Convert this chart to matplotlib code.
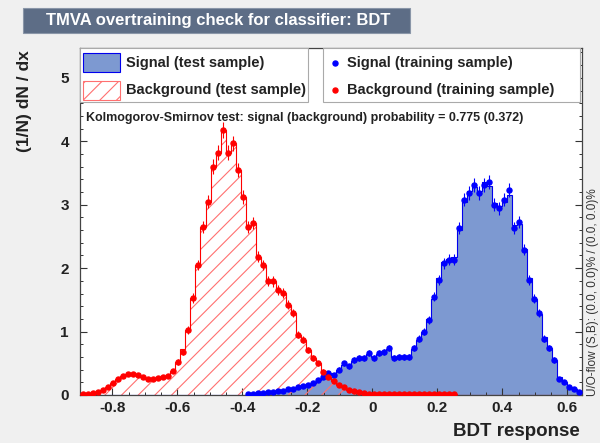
import numpy as np
import matplotlib.pyplot as plt
from matplotlib.patches import Rectangle
from matplotlib.lines import Line2D
from matplotlib.ticker import MultipleLocator

plt.rcParams['font.family'] = ['Liberation Sans', 'DejaVu Sans']
plt.rcParams['hatch.linewidth'] = 0.8

# histogram range and binning (TMVA style, 100 bins)
x_lo, x_hi, n_bins = -0.9, 0.645, 100

# signal, normalised (1/N) dN/dx, bins 0..99
sig_test = [0.0] * 33 + [
    0.01, 0.02, 0.03, 0.03, 0.04, 0.05, 0.06, 0.07, 0.09, 0.10,
    0.12, 0.14, 0.16, 0.19, 0.23, 0.28, 0.32, 0.34, 0.40, 0.48,
    0.47, 0.53, 0.58, 0.59, 0.64, 0.60, 0.65, 0.68, 0.72, 0.60,
    0.60, 0.61, 0.62, 0.72, 0.87, 1.00, 1.20, 1.52, 1.85, 2.10,
    2.15, 2.18, 2.60, 3.05, 3.22, 3.28, 3.22, 3.35, 3.30, 3.02,
    2.98, 3.05, 3.15, 2.68, 2.70, 2.30, 1.85, 1.52, 1.28, 0.92,
    0.74, 0.55, 0.28, 0.21, 0.13, 0.10, 0.05]
sig_train = [0.0] * 33 + [
    0.01, 0.02, 0.03, 0.03, 0.04, 0.05, 0.06, 0.07, 0.09, 0.10,
    0.12, 0.14, 0.16, 0.19, 0.24, 0.29, 0.34, 0.32, 0.40, 0.50,
    0.45, 0.55, 0.58, 0.58, 0.66, 0.58, 0.66, 0.68, 0.74, 0.58,
    0.60, 0.60, 0.60, 0.74, 0.89, 1.00, 1.18, 1.55, 1.81, 2.08,
    2.13, 2.13, 2.63, 3.08, 3.18, 3.31, 3.18, 3.31, 3.36, 3.00,
    2.94, 3.08, 3.23, 2.63, 2.73, 2.29, 1.81, 1.52, 1.29, 0.89,
    0.74, 0.55, 0.26, 0.21, 0.13, 0.10, 0.05]

bkg_test = [
    0.02, 0.02, 0.03, 0.05, 0.08, 0.13, 0.19, 0.25, 0.30, 0.33,
    0.33, 0.31, 0.28, 0.26, 0.26, 0.27, 0.28, 0.30, 0.38, 0.52,
    0.72, 1.03, 1.53, 2.05, 2.65, 3.05, 3.60, 3.82, 4.18, 3.82,
    3.97, 3.55, 3.12, 2.65, 2.71, 2.18, 2.05, 1.80, 1.79, 1.66,
    1.61, 1.42, 1.29, 0.95, 0.87, 0.71, 0.58, 0.50, 0.37, 0.29,
    0.22, 0.16, 0.12, 0.08, 0.06, 0.04, 0.03, 0.02, 0.02, 0.01,
    0.01, 0.01, 0.01, 0.01, 0.01, 0.01, 0.01, 0.01, 0.01, 0.01,
    0.01, 0.01, 0.01, 0.01, 0.01] + [0.0] * 25
bkg_train = [
    0.02, 0.02, 0.03, 0.05, 0.08, 0.13, 0.19, 0.25, 0.30, 0.33,
    0.33, 0.31, 0.28, 0.26, 0.26, 0.27, 0.28, 0.30, 0.38, 0.52,
    0.68, 1.03, 1.53, 2.05, 2.65, 3.05, 3.60, 3.82, 4.18, 3.82,
    3.97, 3.55, 3.12, 2.65, 2.71, 2.18, 2.05, 1.80, 1.79, 1.66,
    1.61, 1.42, 1.29, 0.95, 0.87, 0.71, 0.58, 0.50, 0.37, 0.29,
    0.22, 0.16, 0.12, 0.08, 0.06, 0.04, 0.03, 0.02, 0.02, 0.01,
    0.01, 0.01, 0.01, 0.01, 0.01, 0.01, 0.01, 0.01, 0.01, 0.01,
    0.01, 0.01, 0.01, 0.01, 0.01] + [0.0] * 25

title = "TMVA overtraining check for classifier: BDT"
ks_text = "Kolmogorov-Smirnov test: signal (background) probability = 0.775 (0.372)"
flow_text = "U/O-flow (S,B): (0.0, 0.0)% / (0.0, 0.0)%"

sig_fill = '#7d99d1'
sig_line = '#0000ee'
bkg_line = '#ff0000'
txt_col = '#222222'

W, H = 600, 443


def fx(x):
    return x / W


def fy(y):
    return 1 - y / H


edges = np.linspace(x_lo, x_hi, n_bins + 1)
centers = 0.5 * (edges[:-1] + edges[1:])
sig_test = np.array(sig_test)
sig_train = np.array(sig_train)
bkg_test = np.array(bkg_test)
bkg_train = np.array(bkg_train)

fig = plt.figure(figsize=(6, 4.43), dpi=100)
fig.patch.set_facecolor('#f0f0f0')
ax = fig.add_axes([fx(80), fy(395), fx(582 - 80), (395 - 48) / H])
ax.set_facecolor('white')

# test samples as histograms
ax.stairs(sig_test, edges, fill=True, facecolor=sig_fill, edgecolor='none', zorder=1)
ax.stairs(bkg_test, edges, fill=True, facecolor='none', edgecolor='#ff7070',
          hatch='//', linewidth=0, zorder=2)
ax.stairs(sig_test, edges, color=sig_line, linewidth=0.8, zorder=3)
ax.stairs(bkg_test, edges, color=bkg_line, linewidth=0.8, zorder=3)

# training samples as points with errors
for vals, col in [(sig_train, '#0000ff'), (bkg_train, '#ff0000')]:
    m = vals > 0
    ax.errorbar(centers[m], vals[m], yerr=0.06 * np.sqrt(vals[m]), fmt='o',
                color=col, markersize=3.6, elinewidth=0.8, capsize=0, zorder=4)

ax.set_xlim(x_lo, x_hi)
ax.set_ylim(0, 5.47)
ax.xaxis.set_minor_locator(MultipleLocator(0.05))
ax.yaxis.set_major_locator(MultipleLocator(1))
ax.yaxis.set_minor_locator(MultipleLocator(0.2))
ax.set_xticks(np.arange(-0.8, 0.61, 0.2))
ax.set_xticklabels(['-0.8', '-0.6', '-0.4', '-0.2', '0', '0.2', '0.4', '0.6'])
ax.tick_params(which='both', direction='in', top=True, right=True, colors='#333333',
               labelcolor=txt_col, labelsize=11)
ax.tick_params(which='major', length=5, width=0.8)
ax.tick_params(which='minor', length=2.5, width=0.7)
ax.tick_params(axis='x', pad=4)
ax.tick_params(axis='y', pad=8)
for lab in ax.get_xticklabels() + ax.get_yticklabels():
    lab.set_fontweight('bold')
for s in ax.spines.values():
    s.set_color('#444444')
    s.set_linewidth(0.9)

# axis titles
fig.text(fx(580), fy(432), 'BDT response', ha='right', va='center',
         fontsize=13.5, fontweight='bold', color=txt_col)
fig.text(fx(25), fy(50), '(1/N) dN / dx', ha='center', va='top', rotation=90,
         fontsize=12.5, fontweight='bold', color=txt_col)

# title box
fig.patches.append(Rectangle((fx(23), fy(33)), fx(410 - 23), (33 - 8) / H,
                             transform=fig.transFigure, facecolor='#5d6d86',
                             edgecolor='#8a96a8', linewidth=0.8))
fig.text(fx(46), fy(20.5), title, ha='left', va='center', color='white',
         fontsize=12, fontweight='bold')

# legend boxes
for x0, x1 in [(80, 308), (323, 580)]:
    fig.patches.append(Rectangle((fx(x0), fy(102)), fx(x1 - x0), (102 - 48) / H,
                                 transform=fig.transFigure, facecolor='white',
                                 edgecolor='#aaaaaa', linewidth=0.8, zorder=5))

fig.patches.append(Rectangle((fx(83), fy(72)), fx(37), 19 / H, transform=fig.transFigure,
                             facecolor=sig_fill, edgecolor=sig_line, linewidth=0.8, zorder=6))
fig.patches.append(Rectangle((fx(83), fy(100)), fx(37), 19 / H, transform=fig.transFigure,
                             facecolor='white', edgecolor='#ff7070', hatch='//',
                             linewidth=0.8, zorder=6))
fig.text(fx(126), fy(63), 'Signal (test sample)', ha='left', va='center',
         fontsize=10.5, fontweight='bold', color=txt_col, zorder=7)
fig.text(fx(126), fy(90), 'Background (test sample)', ha='left', va='center',
         fontsize=10.5, fontweight='bold', color=txt_col, zorder=7)
fig.lines.append(Line2D([fx(335)], [fy(63)], marker='o', markersize=3.6, color='#0000ff',
                        transform=fig.transFigure, zorder=7))
fig.lines.append(Line2D([fx(335)], [fy(90)], marker='o', markersize=3.6, color='#ff0000',
                        transform=fig.transFigure, zorder=7))
fig.text(fx(347), fy(63), 'Signal (training sample)', ha='left', va='center',
         fontsize=10.5, fontweight='bold', color=txt_col, zorder=7)
fig.text(fx(347), fy(90), 'Background (training sample)', ha='left', va='center',
         fontsize=10.5, fontweight='bold', color=txt_col, zorder=7)

fig.text(fx(86), fy(118), ks_text, ha='left', va='center', fontsize=9,
         fontweight='bold', color=txt_col)
fig.text(fx(593), fy(396), flow_text, ha='center', va='bottom', rotation=90,
         fontsize=8.5, color='#333333')

fig.savefig('out.png', dpi=100, facecolor=fig.get_facecolor())
